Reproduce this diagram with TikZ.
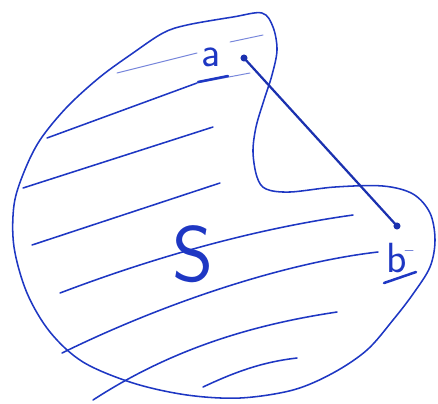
\documentclass[tikz,border=0pt]{standalone}
\usepackage{tikz}
\usetikzlibrary{positioning}
\definecolor{pen}{RGB}{30,55,195}

\begin{document}
\begin{tikzpicture}[
    x=0.025cm, y=-0.025cm,
    blob/.style={draw=pen, line width=1.1pt, line join=round},
    hatch/.style={draw=pen, line width=1.1pt, line cap=round},
    faint/.style={draw=pen!60, line width=0.7pt, line cap=round},
    seg/.style={draw=pen!90!black, line width=1.6pt, line cap=round},
    pt/.style={circle, fill=pen!90!black, inner sep=0pt, minimum size=5pt},
    hand/.style={text=pen, font=\sffamily, inner sep=0pt}
  ]
  \useasboundingbox (0,0) rectangle (438,403);

  % the set S
  \draw[blob] plot[smooth cycle, tension=0.55] coordinates {
    (187,25) (233,17) (262,13) (273,27) (277,50) (272,75) (264,100)
    (256,127) (253,152) (257,177) (266,189) (290,192) (335,187)
    (383,186) (413,194) (430,213) (435,240) (430,267) (413,294)
    (393,320) (367,350) (333,373) (293,390) (240,398) (187,395)
    (133,383) (83,362) (50,332) (27,293) (14,247) (14,205) (24,172)
    (40,140) (67,107) (100,77) (133,53) (163,33)};

  % hatching
  \draw[faint] (117,73) -- (197,53);
  \draw[faint] (230,42) -- (263,35);
  \draw[hatch] (47,138) -- (197,83);
  \draw[faint] (197,83) -- (250,73);
  \draw[hatch] (23,188) -- (213,127);
  \draw[hatch] (32,245) -- (220,183);
  \draw[hatch] (60,293) .. controls (160,255) and (260,228) .. (353,215);
  \draw[hatch] (62,353) .. controls (170,300) and (290,262) .. (378,252);
  \draw[faint] (405,250) -- (413,250);
  \draw[hatch] (93,400) .. controls (170,350) and (250,325) .. (337,312);
  \draw[hatch] (203,387) .. controls (235,372) and (262,362) .. (297,358);

  % the points and the segment
  \node[pt] (a) at (244,58) {};
  \node[pt] (b) at (397,226) {};
  \draw[seg] (a.center) -- (b.center);

  % labels
  \node[hand, font=\sffamily\fontsize{30}{30}\selectfont] (lblA) at (211,57) {a};
  \draw[hatch, line width=1.8pt] (198,82) -- (228,76);
  \node[hand, font=\sffamily\fontsize{30}{30}\selectfont] (lblB) at (397,258) {b};
  \draw[hatch, line width=1.8pt] (384,283) -- (416,272);
  \node[hand, font=\sffamily\fontsize{56}{56}\selectfont] (lblS) at (193,254) {S};
\end{tikzpicture}
\end{document}
